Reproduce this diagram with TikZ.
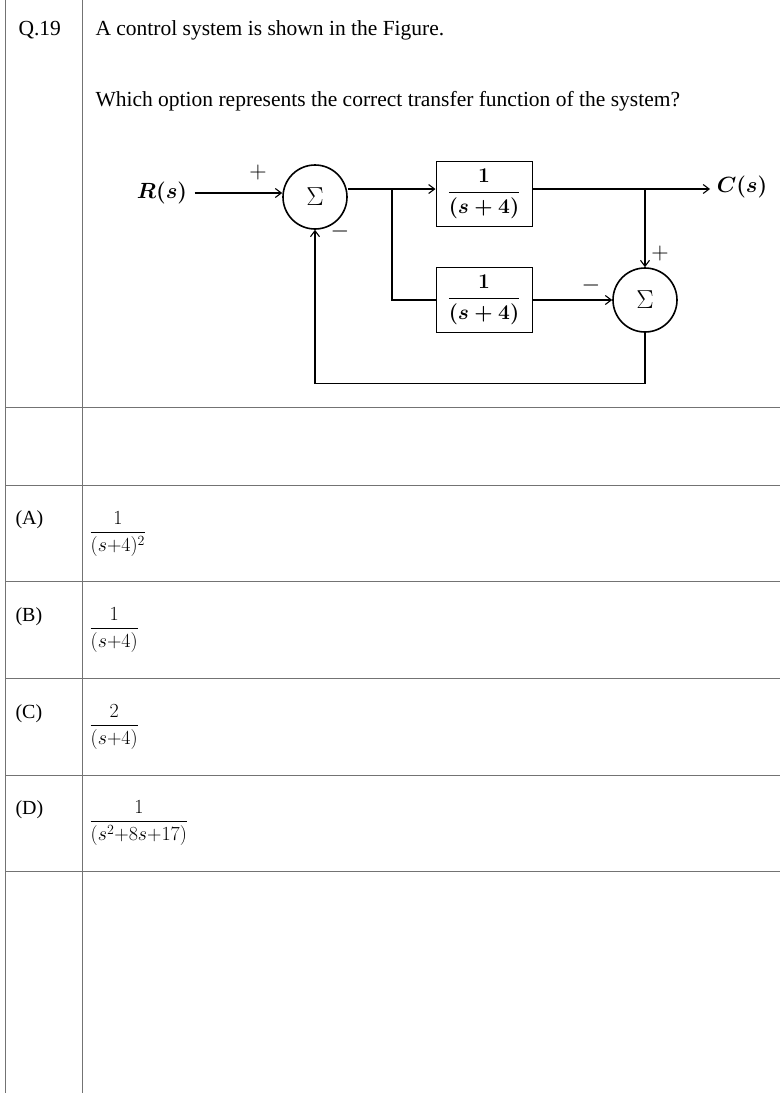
\documentclass[tikz,border=0pt]{standalone}
\usepackage{fix-cm}
\usepackage{amsmath}
\usepackage{fontspec}
\setmainfont{Liberation Serif}
\usetikzlibrary{arrows.meta}
\begin{document}
\begin{tikzpicture}[x=1pt,y=-1pt,
  grid/.style={draw=black!55,line width=0.9pt},
  sum/.style={circle,draw,line width=1.6pt,minimum size=64pt,inner sep=0pt,font=\fontsize{26}{26}\selectfont},
  blk/.style={draw,line width=1pt,minimum width=96pt,minimum height=65pt,inner sep=0pt,font=\fontsize{21}{24}\selectfont},
  ln/.style={line width=1.1pt},
  ar/.style={ln,-{Straight Barb[length=6pt,width=9pt]}},
  txt/.style={anchor=base west,font=\fontsize{21.5}{24}\selectfont},
  sg/.style={font=\fontsize{24}{24}\selectfont}]
\useasboundingbox (0,0) rectangle (780,1093);
% table
\draw[grid] (5,0) -- (5,1093);
\draw[grid] (82,0) -- (82,1093);
\foreach \y in {407,485,581,678,775,871} \draw[grid] (5,\y) -- (780,\y);
% texts
\node[txt] (q) at (15,35) {Q.19};
\node[txt] (t1) at (92,35) {A control system is shown in the Figure.};
\node[txt] (t2) at (92,106) {Which option represents the correct transfer function of the system?};
% diagram
\node[sum] (s1) at (315,197) {$\Sigma$};
\node[blk] (b1) at (484,194) {$\boldsymbol{\dfrac{1}{(s+4)}}$};
\node[blk] (b2) at (484,300) {$\boldsymbol{\dfrac{1}{(s+4)}}$};
\node[sum] (s2) at (645,300) {$\Sigma$};
\node[font=\fontsize{22}{22}\selectfont] (r) at (162,193) {$\boldsymbol{R(s)}$};
\node[font=\fontsize{22}{22}\selectfont] (c) at (742,187) {$\boldsymbol{C(s)}$};
\coordinate (br) at (392,189);
\coordinate (bo) at (645,189);
\coordinate (ce) at (710,189);
\draw[ar] (r.east) ++(4,0) -- (s1.west |- r.east);
\draw[ln] (s1.east |- br) -- (br);
\draw[ar] (br) -- (b1.west |- br);
\draw[ln] (br) |- (b2.west);
\draw[ln] (b1.east |- bo) -- (bo);
\draw[ar] (bo) -- (ce);
\draw[ar] (bo) -- (s2.north);
\draw[ar] (b2.east) -- (s2.west);
\draw[ar] (s2.south) -- ++(0,51) -| (s1.south);
\node[sg] (p1) at (258,172) {$+$};
\node[sg] (m1) at (340,231) {$-$};
\node[sg] (p2) at (660,253) {$+$};
\node[sg] (m2) at (591,285) {$-$};
% options
\foreach \y/\l in {520/(A),617/(B),714/(C),810/(D)} \node[anchor=west,font=\fontsize{20}{22}\selectfont] at (12,\y) {\l};
\begin{scope}[font=\fontsize{20}{24}\selectfont]
\node[anchor=west] (oa) at (86,534) {$\dfrac{1}{(s{+}4)^2}$};
\node[anchor=west] (ob) at (86,630) {$\dfrac{1}{(s{+}4)}$};
\node[anchor=west] (oc) at (86,727) {$\dfrac{2}{(s{+}4)}$};
\node[anchor=west] (od) at (86,823) {$\dfrac{1}{(s^2{+}8s{+}17)}$};
\end{scope}
\end{tikzpicture}
\end{document}
